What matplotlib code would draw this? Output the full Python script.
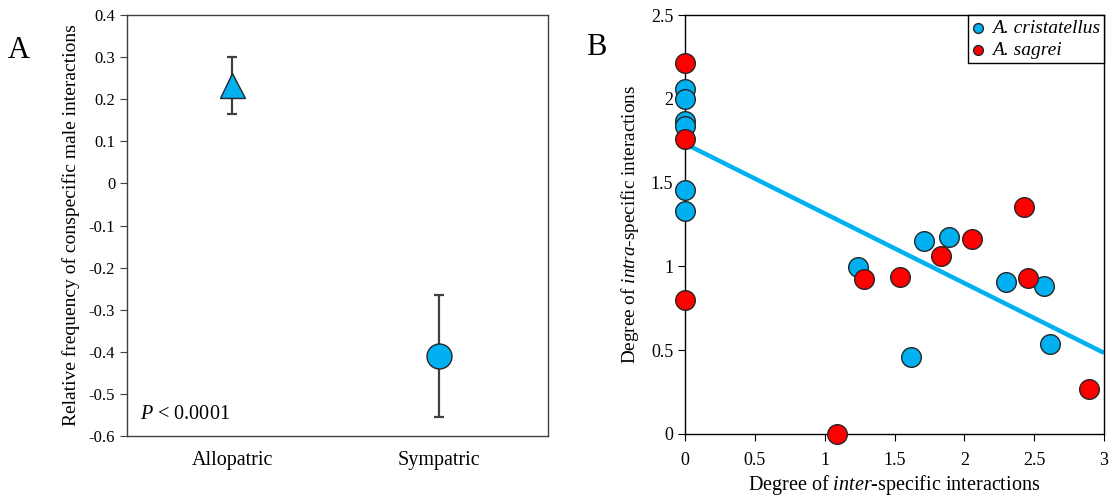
import matplotlib
matplotlib.use("Agg")
import matplotlib.pyplot as plt
import numpy as np

plt.rcParams["font.family"] = ["Liberation Serif", "DejaVu Serif"]
plt.rcParams["mathtext.fontset"] = "custom"
plt.rcParams["mathtext.it"] = "Liberation Serif:italic"

# ---------------------------------------------------------------------------
# Colours
# ---------------------------------------------------------------------------
C_BLUE = "#00B0F0"
C_RED = "#FF0000"
C_EDGE = "#262626"
C_ERR = "#404040"

# ---------------------------------------------------------------------------
# Panel A data — mean ± error per range type
# ---------------------------------------------------------------------------
groups = ["Allopatric", "Sympatric"]
group_means = [0.233, -0.411]
group_errs = [0.067, 0.145]
group_markers = ["^", "o"]

# ---------------------------------------------------------------------------
# Panel B data — inter- vs intra-specific interactions
# ---------------------------------------------------------------------------
cris_x = [0, 0, 0, 0, 0, 0, 1.237, 1.62, 1.713, 1.89, 2.299, 2.569, 2.61]
cris_y = [2.057, 1.997, 1.869, 1.838, 1.456, 1.331, 0.999, 0.462, 1.152,
          1.176, 0.904, 0.886, 0.535]
sag_x = [0, 0, 0, 1.089, 1.285, 1.536, 1.833, 2.055, 2.426, 2.459, 2.895]
sag_y = [2.215, 1.758, 0.800, 0.0, 0.926, 0.936, 1.061, 1.166, 1.355,
         0.928, 0.269]
fit_x = [0, 3]
fit_y = [1.732, 0.484]

# ---------------------------------------------------------------------------
# Figure
# ---------------------------------------------------------------------------
fig = plt.figure(figsize=(11.14, 4.97), dpi=100)
axA = fig.add_axes([127 / 1114, 61 / 497, 421 / 1114, 421 / 497])
axB = fig.add_axes([685 / 1114, 63 / 497, 419 / 1114, 419 / 497])

# ===========================================================================
# Panel A
# ===========================================================================
ax = axA
xpos = np.array([0.0, 0.98])
for i, (m, e, mk) in enumerate(zip(group_means, group_errs, group_markers)):
    ax.errorbar(xpos[i], m, yerr=e, fmt="none", ecolor=C_ERR, elinewidth=1.6,
                capsize=3.5, capthick=1.6, zorder=2)
    ax.plot(xpos[i], m, marker=mk, ms=18, color=C_BLUE, mec=C_EDGE, mew=1.0,
            ls="none", zorder=3)

ax.set_xlim(-0.5, 1.5)
ax.set_ylim(-0.6, 0.4)
yt = np.arange(-0.6, 0.41, 0.1)
ax.set_yticks(yt)
ax.set_yticklabels(["0" if abs(v) < 1e-9 else f"{v:.1f}" for v in yt])
ax.set_xticks(xpos)
ax.set_xticklabels(groups)
ax.tick_params(axis="x", length=0, labelsize=14.5, pad=11)
ax.tick_params(axis="y", direction="out", length=5, labelsize=12,
               color=C_ERR)
for s in ax.spines.values():
    s.set_edgecolor(C_ERR)
    s.set_linewidth(1.0)
ax.set_ylabel("Relative frequency of conspecific male interactions",
              fontsize=14, labelpad=6)
ax.text(0.03, 0.028, r"$P$ < 0.0001", transform=ax.transAxes,
        fontsize=14.5, ha="left", va="bottom")
fig.text(8 / 1114, 1 - 58 / 497, "A", fontsize=22, ha="left", va="baseline")

# ===========================================================================
# Panel B
# ===========================================================================
ax = axB
ax.plot(fit_x, fit_y, color=C_BLUE, lw=3.2, zorder=2, solid_capstyle="butt")
ax.scatter(cris_x, cris_y, s=200, color=C_BLUE, edgecolors=C_EDGE,
           linewidths=1.0, zorder=3, clip_on=False, label="A. cristatellus")
ax.scatter(sag_x, sag_y, s=200, color=C_RED, edgecolors=C_EDGE,
           linewidths=1.0, zorder=3, clip_on=False, label="A. sagrei")

ax.set_xlim(0, 3)
ax.set_ylim(0, 2.5)
ax.set_xticks(np.arange(0, 3.01, 0.5))
ax.set_xticklabels(["0", "0.5", "1", "1.5", "2", "2.5", "3"])
ax.set_yticks(np.arange(0, 2.51, 0.5))
ax.set_yticklabels(["0", "0.5", "1", "1.5", "2", "2.5"])
ax.tick_params(direction="out", length=5, labelsize=13)
ax.tick_params(axis="x", pad=8)
for s in ax.spines.values():
    s.set_edgecolor("black")
    s.set_linewidth(1.0)
ax.set_xlabel(r"Degree of $inter$-specific interactions", fontsize=14.5,
              labelpad=3)
ax.set_ylabel(r"Degree of $intra$-specific interactions", fontsize=13.8,
              labelpad=7)

leg = ax.legend(loc="upper right", bbox_to_anchor=(1.0, 1.0),
                prop={"style": "italic", "size": 14}, markerscale=0.5,
                handletextpad=0.4, handlelength=0.6, borderpad=0.22,
                labelspacing=0.22, fancybox=False, framealpha=1,
                edgecolor="black", borderaxespad=0)
leg.get_frame().set_linewidth(1.0)

fig.text(586 / 1114, 1 - 55 / 497, "B", fontsize=22, ha="left", va="baseline")

fig.savefig("out.png", dpi=100, facecolor="white")
